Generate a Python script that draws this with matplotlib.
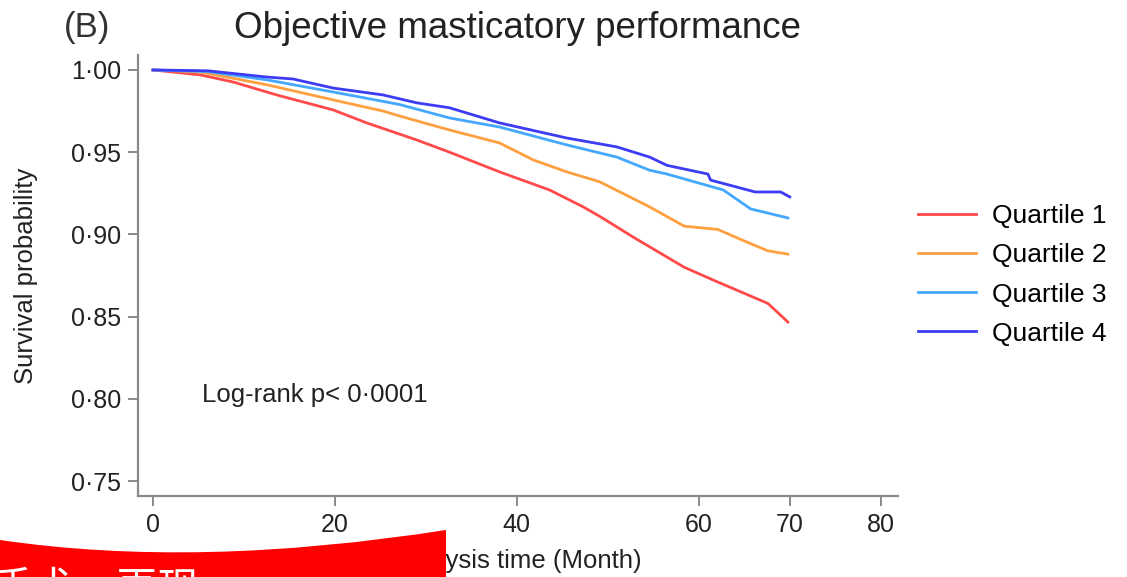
import matplotlib.pyplot as plt
from matplotlib.path import Path
from matplotlib.patches import PathPatch

plt.rcParams['font.family'] = ['Liberation Sans', 'Noto Sans CJK SC', 'DejaVu Sans']

# survival curves (month, survival probability)
q1_x = [0, 5.2, 8.8, 13.6, 19.8, 23.5, 29, 32.6, 38.1, 43.6, 47.3, 49.1, 52.9, 58.4, 62.1, 65.7, 67.6, 69.8]
q1_y = [1.0, 0.997, 0.9927, 0.9848, 0.9757, 0.9678, 0.9574, 0.950, 0.938, 0.927, 0.9167, 0.911, 0.898, 0.880, 0.871, 0.8625, 0.858, 0.8467]

q2_x = [0, 5.2, 12.5, 19.8, 25.3, 27.1, 32.6, 38.1, 41.8, 45.5, 49.1, 54.6, 58.4, 62.1, 65.0, 67.6, 69.8]
q2_y = [1.0, 0.9988, 0.991, 0.9818, 0.975, 0.972, 0.9635, 0.9556, 0.9453, 0.938, 0.932, 0.9167, 0.905, 0.903, 0.896, 0.890, 0.888]

q3_x = [0, 6, 12.5, 19.8, 27.1, 32.6, 38.1, 45.5, 51.0, 54.6, 56.5, 62.7, 65.7, 69.8]
q3_y = [1.0, 0.999, 0.994, 0.9866, 0.979, 0.9708, 0.9653, 0.9544, 0.947, 0.939, 0.9367, 0.927, 0.9155, 0.910]

q4_x = [0, 6, 12.5, 15.4, 19.8, 25.3, 29, 32.6, 38.1, 45.5, 51.0, 54.6, 56.5, 61.0, 61.3, 66.2, 69.0, 70.0]
q4_y = [1.0, 0.9995, 0.9957, 0.9945, 0.989, 0.9848, 0.980, 0.977, 0.9678, 0.9586, 0.9532, 0.947, 0.942, 0.9367, 0.933, 0.9258, 0.9258, 0.9228]

labels = ['Quartile 1', 'Quartile 2', 'Quartile 3', 'Quartile 4']
colors = ['#ff4a4a', '#ffa040', '#45a8ff', '#3c3cf5']

x_ticks = [0, 20, 40, 60, 70, 80]
y_ticks = [0.75, 0.80, 0.85, 0.90, 0.95, 1.00]
y_tick_labels = ['0·75', '0·80', '0·85', '0·90', '0·95', '1·00']

W, H = 1127, 577
fig = plt.figure(figsize=(W / 100, H / 100), dpi=100)
ax = fig.add_axes([138 / W, 1 - 496 / H, (898 - 138) / W, (496 - 55) / H])

for xs, ys, lab, c in zip([q1_x, q2_x, q3_x, q4_x], [q1_y, q2_y, q3_y, q4_y], labels, colors):
    ax.plot(xs, ys, color=c, lw=2.0, label=lab)

ax.set_xlim(-1.65, 81.9)
ax.set_ylim(0.7409, 1.0091)
ax.set_xticks(x_ticks)
ax.set_xticklabels([str(t) for t in x_ticks])
ax.set_yticks(y_ticks)
ax.set_yticklabels(y_tick_labels)

for s in ['top', 'right']:
    ax.spines[s].set_visible(False)
for s in ['left', 'bottom']:
    ax.spines[s].set_color('#8a8a8a')
    ax.spines[s].set_linewidth(1.6)
ax.tick_params(direction='out', length=7, width=1.4, color='#8a8a8a',
               labelsize=18, labelcolor='#222222', pad=5)

ax.set_ylabel('Survival probability', fontsize=18.5, color='#222222')
ax.yaxis.set_label_coords(-0.132, 0.5)
ax.set_xlabel('Analysis time (Month)', fontsize=18.5, color='#222222')
ax.xaxis.set_label_coords(0.5, -0.12)

ax.text(5.4, 0.8023, 'Log-rank p< 0·0001', fontsize=18.5, color='#222222', va='center')

fig.text(518 / W, 1 - 29 / H, 'Objective masticatory performance', fontsize=26.5,
         color='#222222', ha='center', va='center')
fig.text(64 / W, 1 - 28 / H, '(B)', fontsize=25, color='#333333', ha='left', va='center')

ax.legend(loc='center left', bbox_to_anchor=(918 / W, 1 - 275 / H), bbox_transform=fig.transFigure,
          frameon=False, fontsize=19, handlelength=2.2, handletextpad=0.6,
          labelspacing=0.57, borderpad=0, borderaxespad=0)

# red banner over the bottom-left corner
p = [(0, 540), (197, 569), (446, 530), (446, 600), (0, 600), (0, 540)]
verts = [(px / W, 1 - py / H) for px, py in p]
codes = [Path.MOVETO, Path.CURVE3, Path.CURVE3, Path.LINETO, Path.LINETO, Path.CLOSEPOLY]
fig.patches.append(PathPatch(Path(verts, codes), facecolor='#ff0000', edgecolor='none',
                             transform=fig.transFigure, zorder=10))
fig.text(-8 / W, 1 - 590 / H, '手术、再现', fontsize=30, color='white', ha='left', va='center',
         zorder=11, family=['Noto Sans CJK SC', 'DejaVu Sans'])

fig.savefig('out.png', dpi=100)
